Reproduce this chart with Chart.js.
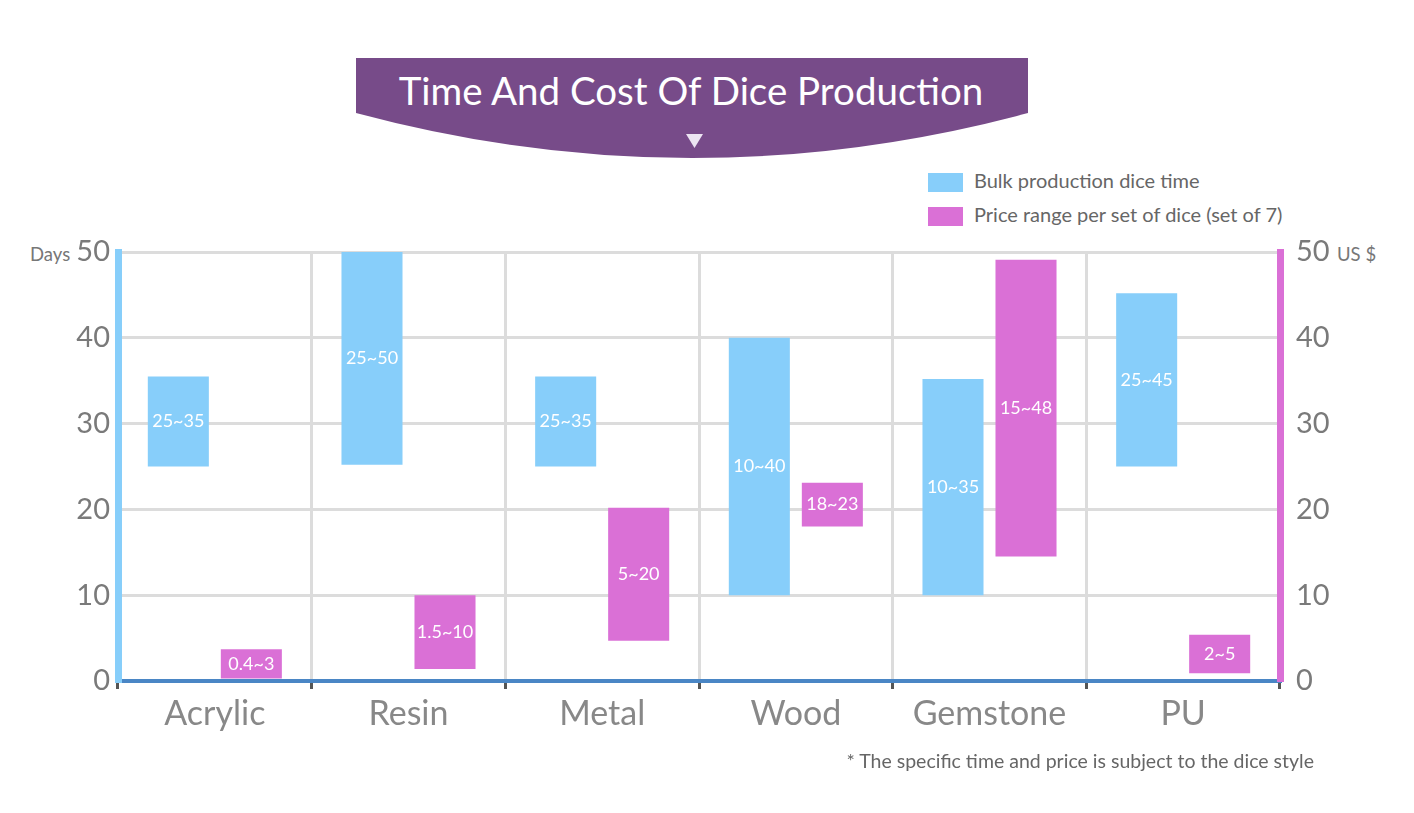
<!DOCTYPE html>
<html>
<head>
<meta charset="utf-8">
<script src="https://cdn.jsdelivr.net/npm/chart.js@4"></script>
<style>
  html, body { margin: 0; padding: 0; background: #fff; }
  body { width: 1414px; height: 813px; position: relative; overflow: hidden; font-family: Lato, "Open Sans", sans-serif; }
  #chart { position: absolute; left: 0; top: 0; }
  .banner { position: absolute; left: 0; top: 0; }
  .title { position: absolute; left: 354px; width: 674px; top: 67px; text-align: center; color: #fff; font-size: 38.5px; line-height: 46px; }
  .legend { position: absolute; left: 928px; color: #666; font-size: 20px; line-height: 20px; white-space: nowrap; }
  .legend span.box { display: inline-block; width: 35px; height: 19px; vertical-align: middle; margin-right: 11px; }
  .unit { position: absolute; color: #777; font-size: 18.5px; }
  .note { position: absolute; right: 100px; top: 749px; color: #666; font-size: 19.5px; white-space: nowrap; }
</style>
</head>
<body>
<svg class="banner" width="1414" height="220">
  <path d="M356,58 L1028,58 L1028,113 Q692,203 356,113 Z" fill="#774b89"/>
  <path d="M686,134 L703,134 L694.5,148 Z" fill="#ece4f2"/>
</svg>
<div class="title">Time And Cost Of Dice Production</div>
<div class="legend" style="top:170px"><span class="box" style="background:#87CEFA"></span>Bulk production dice time</div>
<div class="legend" style="top:204px"><span class="box" style="background:#DA70D6"></span>Price range per set of dice (set of 7)</div>
<div class="unit" style="left:30px;top:243px">Days</div>
<div class="unit" style="left:1337px;top:243px">US $</div>
<canvas id="chart" width="1414" height="813"></canvas>
<div class="note">* The specific time and price is subject to the dice style</div>

<script>
const CATEGORIES = ["Acrylic", "Resin", "Metal", "Wood", "Gemstone", "PU"];

// bulk production time, days [from, to]
const TIME_RANGES = [[25, 35.5], [25.2, 50], [25, 35.5], [10, 40], [10, 35.2], [25, 45.2]];
const TIME_LABELS = ["25~35", "25~50", "25~35", "10~40", "10~35", "25~45"];

// price per set of 7, US $ [from, to]
const PRICE_RANGES = [[0.3, 3.7], [1.4, 10], [4.7, 20.2], [18, 23.1], [14.5, 49.1], [0.9, 5.4]];
const PRICE_LABELS = ["0.4~3", "1.5~10", "5~20", "18~23", "15~48", "2~5"];

const AXIS_MIN = 0;
const AXIS_MAX = 50;
const AXIS_STEP = 10;

const COLORS = {
  time: "#87CEFA",
  price: "#DA70D6",
  grid: "#dcdcdc",
  base: "#4a86c5",
  tick: "#7a7a7a",
  label: "#888",
};

/* texto blanco dentro de cada barra */
const barLabels = {
  id: "barLabels",
  afterDatasetsDraw(chart) {
    const ctx = chart.ctx;
    ctx.save();
    ctx.fillStyle = "#fff";
    ctx.font = "18px Lato, sans-serif";
    ctx.textAlign = "center";
    ctx.textBaseline = "middle";
    chart.data.datasets.forEach((ds, i) => {
      chart.getDatasetMeta(i).data.forEach((bar, j) => {
        ctx.fillText(ds.rangeLabels[j], bar.x, (bar.y + bar.base) / 2);
      });
    });
    ctx.restore();
  },
};

const tickFont = { family: "Lato, sans-serif", size: 29 };

new Chart(document.getElementById("chart"), {
  type: "bar",
  data: {
    labels: CATEGORIES,
    datasets: [
      {
        label: "Bulk production dice time",
        data: TIME_RANGES,
        rangeLabels: TIME_LABELS,
        backgroundColor: COLORS.time,
        yAxisID: "y",
        categoryPercentage: 0.754,
        barPercentage: 0.836,
      },
      {
        label: "Price range per set of dice (set of 7)",
        data: PRICE_RANGES,
        rangeLabels: PRICE_LABELS,
        backgroundColor: COLORS.price,
        yAxisID: "y1",
        categoryPercentage: 0.754,
        barPercentage: 0.836,
      },
    ],
  },
  options: {
    responsive: false,
    animation: false,
    layout: { padding: { top: 252, left: 0, right: 0, bottom: 0 } },
    plugins: { legend: { display: false }, tooltip: { enabled: false } },
    scales: {
      x: {
        offset: true,
        grid: { color: COLORS.grid, lineWidth: 3, tickColor: "#555", tickLength: 8, tickWidth: 3 },
        border: { color: COLORS.base, width: 4 },
        ticks: { color: COLORS.label, font: { family: "Lato, sans-serif", size: 34 }, padding: 5 },
        afterFit: (s) => { s.height = 132; },
      },
      y: {
        position: "left",
        min: AXIS_MIN,
        max: AXIS_MAX,
        ticks: { stepSize: AXIS_STEP, color: COLORS.tick, font: tickFont, padding: 8 },
        grid: { color: COLORS.grid, lineWidth: 3, drawTicks: false },
        border: { color: COLORS.time, width: 7 },
        afterFit: (s) => { s.width = 118; },
      },
      y1: {
        position: "right",
        min: AXIS_MIN,
        max: AXIS_MAX,
        ticks: { stepSize: AXIS_STEP, color: COLORS.tick, font: tickFont, padding: 16 },
        grid: { drawOnChartArea: false, drawTicks: false },
        border: { color: COLORS.price, width: 7 },
        afterFit: (s) => { s.width = 134; },
      },
    },
  },
  plugins: [barLabels],
});
</script>
</body>
</html>
